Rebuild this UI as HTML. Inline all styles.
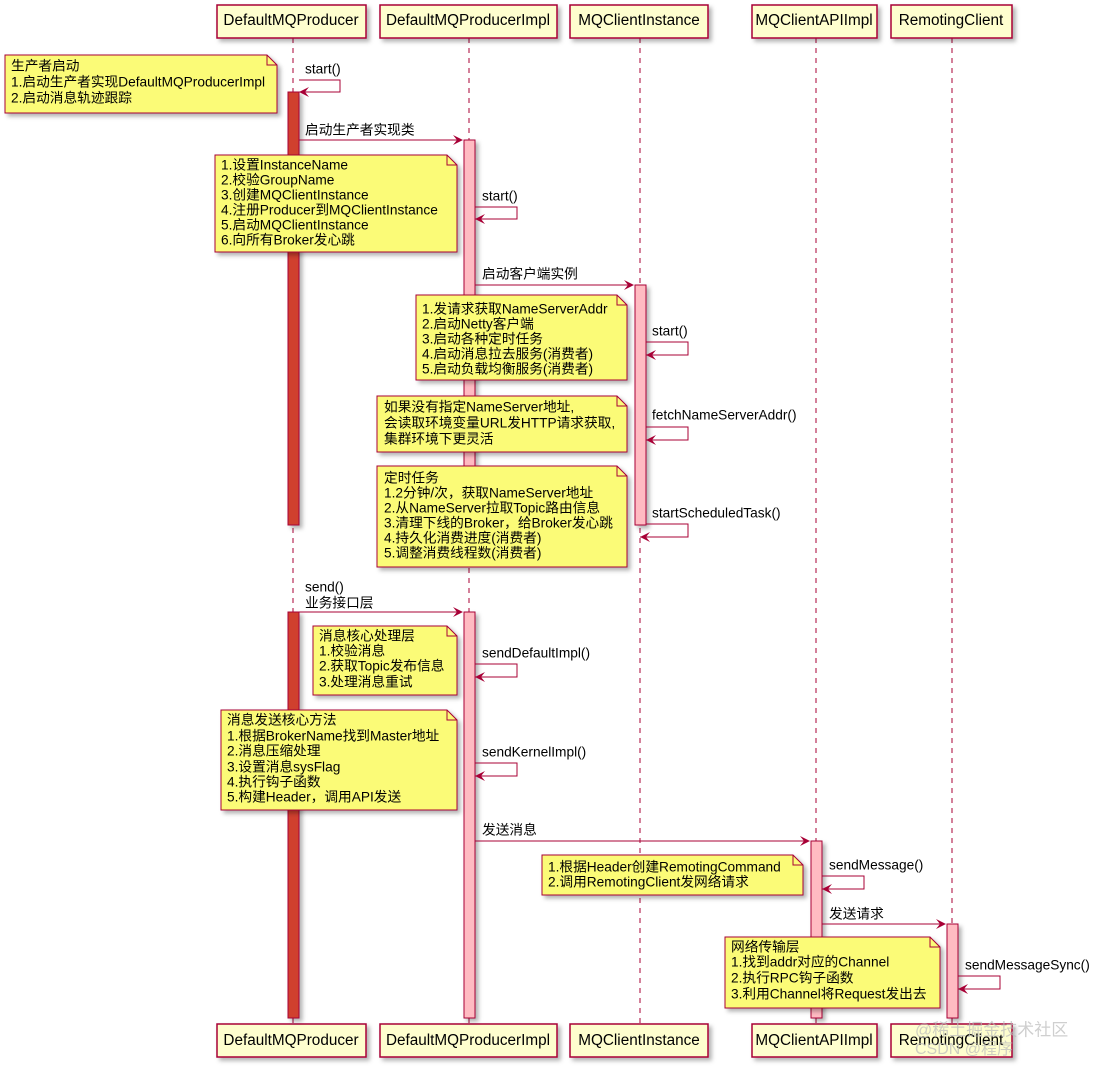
<!DOCTYPE html>
<html><head><meta charset="utf-8"><style>
html,body{margin:0;padding:0;background:#fff;}
svg{display:block;font-family:"Liberation Sans","Noto Sans CJK SC",sans-serif;}
text{font-size:13.7px;fill:#000;dominant-baseline:middle;}
.hd{font-size:15.3px;}
.pb{fill:#FEFECE;stroke:#A80036;stroke-width:1.5;}
.ll{stroke:#A80036;stroke-dasharray:5,5;stroke-width:1;}
.m{stroke:#A80036;stroke-width:1;fill:none;}
.n{fill:#FBFB77;stroke:#A80036;stroke-width:1;}
.ar{fill:#A80036;}
</style></head><body>
<svg width="1102" height="1070" viewBox="0 0 1102 1070" xmlns="http://www.w3.org/2000/svg">
<defs>
<filter id="sh" x="-10%" y="-10%" width="130%" height="130%"><feDropShadow dx="3" dy="3" stdDeviation="2" flood-color="#000" flood-opacity="0.3"/></filter>
</defs>
<line class="ll" x1="293" y1="38" x2="293" y2="1024"/>
<line class="ll" x1="469" y1="38" x2="469" y2="1024"/>
<line class="ll" x1="640" y1="38" x2="640" y2="1024"/>
<line class="ll" x1="816" y1="38" x2="816" y2="1024"/>
<line class="ll" x1="952" y1="38" x2="952" y2="1024"/>
<g filter="url(#sh)">
<rect class="pb" x="217" y="5" width="149" height="33"/>
<rect class="pb" x="380" y="5" width="177" height="33"/>
<rect class="pb" x="570" y="5" width="138" height="33"/>
<rect class="pb" x="752" y="5" width="125" height="33"/>
<rect class="pb" x="891" y="5" width="121" height="33"/>
<rect class="pb" x="217" y="1024" width="149" height="33"/>
<rect class="pb" x="380" y="1024" width="177" height="33"/>
<rect class="pb" x="570" y="1024" width="138" height="33"/>
<rect class="pb" x="752" y="1024" width="125" height="33"/>
<rect class="pb" x="891" y="1024" width="121" height="33"/>
</g>
<g text-anchor="middle" class="hd">
<text class="hd" x="291" y="21">DefaultMQProducer</text>
<text class="hd" x="468" y="21">DefaultMQProducerImpl</text>
<text class="hd" x="639" y="21">MQClientInstance</text>
<text class="hd" x="814" y="21">MQClientAPIImpl</text>
<text class="hd" x="951" y="21">RemotingClient</text>
<text class="hd" x="291" y="1041">DefaultMQProducer</text>
<text class="hd" x="468" y="1041">DefaultMQProducerImpl</text>
<text class="hd" x="639" y="1041">MQClientInstance</text>
<text class="hd" x="814" y="1041">MQClientAPIImpl</text>
<text class="hd" x="951" y="1041">RemotingClient</text>
</g>
<g filter="url(#sh)" stroke="#A80036" stroke-width="1">
<rect x="288" y="92" width="11" height="433" fill="#D0402F"/>
<rect x="288" y="612" width="11" height="406" fill="#D0402F"/>
<rect x="464" y="140" width="11" height="385" fill="#FFBBC2"/>
<rect x="464" y="612" width="11" height="406" fill="#FFBBC2"/>
<rect x="635" y="285" width="11" height="240" fill="#FFBBC2"/>
<rect x="811" y="841" width="11" height="177" fill="#FFBBC2"/>
<rect x="947" y="924" width="11" height="94" fill="#FFBBC2"/>
</g>
<g>
<path class="m" d="M299 80 H340 V92 H299"/><path class="ar" d="M299 92 l10 -5 -4 5 4 5z"/>
<path class="m" d="M475 207 H517 V219 H475"/><path class="ar" d="M475 219 l10 -5 -4 5 4 5z"/>
<path class="m" d="M646 342 H688 V355 H646"/><path class="ar" d="M646 355 l10 -5 -4 5 4 5z"/>
<path class="m" d="M646 427 H688 V440 H646"/><path class="ar" d="M646 440 l10 -5 -4 5 4 5z"/>
<path class="m" d="M646 524 H688 V537 H640"/><path class="ar" d="M640 537 l10 -5 -4 5 4 5z"/>
<path class="m" d="M475 664 H517 V677 H475"/><path class="ar" d="M475 677 l10 -5 -4 5 4 5z"/>
<path class="m" d="M475 763 H517 V776 H475"/><path class="ar" d="M475 776 l10 -5 -4 5 4 5z"/>
<path class="m" d="M822 876 H864 V889 H822"/><path class="ar" d="M822 889 l10 -5 -4 5 4 5z"/>
<path class="m" d="M958 976 H1000 V989 H958"/><path class="ar" d="M958 989 l10 -5 -4 5 4 5z"/>
</g>
<line class="m" x1="299" y1="140" x2="462" y2="140"/><path class="ar" d="M463 140 l-10 -5 4 5 -4 5z"/>
<line class="m" x1="475" y1="285" x2="633" y2="285"/><path class="ar" d="M634 285 l-10 -5 4 5 -4 5z"/>
<line class="m" x1="299" y1="612" x2="462" y2="612"/><path class="ar" d="M463 612 l-10 -5 4 5 -4 5z"/>
<line class="m" x1="475" y1="841" x2="809" y2="841"/><path class="ar" d="M810 841 l-10 -5 4 5 -4 5z"/>
<line class="m" x1="822" y1="924" x2="945" y2="924"/><path class="ar" d="M946 924 l-10 -5 4 5 -4 5z"/>
<g>
<text x="305" y="70">start()</text>
<text x="305" y="131">启动生产者实现类</text>
<text x="482" y="197">start()</text>
<text x="482" y="275">启动客户端实例</text>
<text x="652" y="332">start()</text>
<text x="652" y="416">fetchNameServerAddr()</text>
<text x="652" y="514">startScheduledTask()</text>
<text x="305" y="588">send()</text>
<text x="305" y="604">业务接口层</text>
<text x="482" y="654">sendDefaultImpl()</text>
<text x="482" y="753">sendKernelImpl()</text>
<text x="482" y="831">发送消息</text>
<text x="829" y="866">sendMessage()</text>
<text x="829" y="915">发送请求</text>
<text x="965" y="966">sendMessageSync()</text>
</g>
<g filter="url(#sh)">
<path class="n" d="M5 55 H267 L277 65 V113 H5Z"/>
<path class="n" d="M215 155 H447 L457 165 V252 H215Z"/>
<path class="n" d="M416 295 H617 L627 305 V380 H416Z"/>
<path class="n" d="M377 396 H617 L627 406 V452 H377Z"/>
<path class="n" d="M377 466 H617 L627 476 V567 H377Z"/>
<path class="n" d="M313 626 H447 L457 636 V695 H313Z"/>
<path class="n" d="M221 710 H447 L457 720 V810 H221Z"/>
<path class="n" d="M542 855 H793 L803 865 V895 H542Z"/>
<path class="n" d="M725 937 H930 L940 947 V1008 H725Z"/>
</g>
<g fill="none" stroke="#A80036" stroke-width="1">
<path d="M267 55 V65 H277"/><path d="M447 155 V165 H457"/><path d="M617 295 V305 H627"/>
<path d="M617 396 V406 H627"/><path d="M617 466 V476 H627"/><path d="M447 626 V636 H457"/>
<path d="M447 710 V720 H457"/><path d="M793 855 V865 H803"/><path d="M930 937 V947 H940"/>
</g>
<g>
<text x="11" y="67">生产者启动</text>
<text x="11" y="83">1.启动生产者实现DefaultMQProducerImpl</text>
<text x="11" y="99">2.启动消息轨迹跟踪</text>
<text x="221" y="166">1.设置InstanceName</text>
<text x="221" y="181">2.校验GroupName</text>
<text x="221" y="196">3.创建MQClientInstance</text>
<text x="221" y="211">4.注册Producer到MQClientInstance</text>
<text x="221" y="226">5.启动MQClientInstance</text>
<text x="221" y="241">6.向所有Broker发心跳</text>
<text x="422" y="310">1.发请求获取NameServerAddr</text>
<text x="422" y="325">2.启动Netty客户端</text>
<text x="422" y="340">3.启动各种定时任务</text>
<text x="422" y="355">4.启动消息拉去服务(消费者)</text>
<text x="422" y="370">5.启动负载均衡服务(消费者)</text>
<text x="384" y="408">如果没有指定NameServer地址,</text>
<text x="384" y="424">会读取环境变量URL发HTTP请求获取,</text>
<text x="384" y="440">集群环境下更灵活</text>
<text x="384" y="479">定时任务</text>
<text x="384" y="494">1.2分钟/次，获取NameServer地址</text>
<text x="384" y="509">2.从NameServer拉取Topic路由信息</text>
<text x="384" y="524">3.清理下线的Broker，给Broker发心跳</text>
<text x="384" y="539">4.持久化消费进度(消费者)</text>
<text x="384" y="554">5.调整消费线程数(消费者)</text>
<text x="319" y="637">消息核心处理层</text>
<text x="319" y="652">1.校验消息</text>
<text x="319" y="667">2.获取Topic发布信息</text>
<text x="319" y="683">3.处理消息重试</text>
<text x="227" y="721">消息发送核心方法</text>
<text x="227" y="737">1.根据BrokerName找到Master地址</text>
<text x="227" y="752">2.消息压缩处理</text>
<text x="227" y="768">3.设置消息sysFlag</text>
<text x="227" y="783">4.执行钩子函数</text>
<text x="227" y="798">5.构建Header，调用API发送</text>
<text x="548" y="868">1.根据Header创建RemotingCommand</text>
<text x="548" y="883">2.调用RemotingClient发网络请求</text>
<text x="731" y="948">网络传输层</text>
<text x="731" y="963">1.找到addr对应的Channel</text>
<text x="731" y="979">2.执行RPC钩子函数</text>
<text x="731" y="995">3.利用Channel将Request发出去</text>
</g>
<text x="915" y="1031" style="font-size:17px;fill:#bbb;opacity:0.7">@稀土掘金技术社区</text>
<text x="915" y="1050" style="font-size:16px;fill:#bbb;opacity:0.7">CSDN @程序</text>
</svg>
</body></html>
